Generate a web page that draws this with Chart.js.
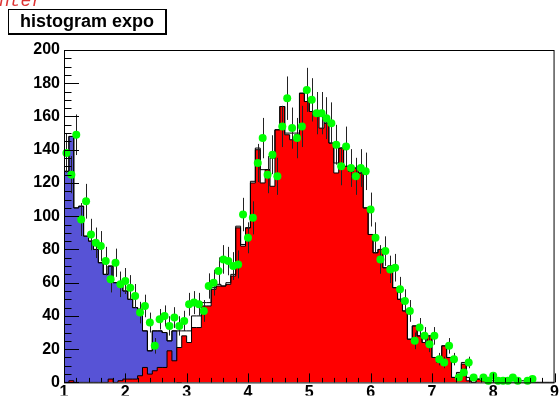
<!DOCTYPE html>
<html>
<head>
<meta charset="utf-8">
<script src="https://cdn.jsdelivr.net/npm/chart.js@4"></script>
<style>
html, body { margin: 0; padding: 0; background: #fff; }
</style>
</head>
<body>
<canvas id="c" width="560" height="396"></canvas>
<script>
// binning of the histograms
const xLow = 1, xHigh = 9, nBins = 100;
const xTicks = [1, 2, 3, 4, 5, 6, 7, 8, 9];
const yTicks = [0, 20, 40, 60, 80, 100, 120, 140, 160, 180, 200];

// green points (data, drawn with sqrt(N) errors)
const dataCounts = [
  138, 125, 149, 98, 109, 89, 84, 82, 73, 62,
  72, 59, 61, 57, 52, 42, 46, 36, 22, 38,
  40, 34, 39, 34, 37, 47, 48, 47, 43, 58,
  60, 67, 74, 73, 70, 71, 101, 87, 99, 132,
  147, 125, 137, 124, 154, 171, 153, 147, 154, 176,
  170, 162, 162, 159, 156, 143, 130, 142, 129, 124,
  129, 127, 104, 87, 74, 79, 68, 69, 56, 49,
  43, 25, 33, 28, 23, 28, 14, 12, 22, 14,
  3, 6, 12, 3, 0, 3, 1, 4, 1, 1,
  1, 3, 1, 0, 1, 2, 0, 0, 0, 0
];

// blue part (expo), first 24 bins
const expoCounts = [
  140, 127, 148, 105, 106, 88, 85, 80, 72, 65,
  70, 60, 58, 55, 50, 45, 44, 31, 19, 31,
  31, 30, 25, 31
];

// red part (gaus)
const gausCounts = [
  0, 0, 1, 0, 0, 0, 0, 0, 0, 0,
  2, 0, 1, 2, 2, 2, 4, 9, 5, 7,
  9, 9, 19, 13, 21, 28, 24, 33, 33, 46,
  46, 56, 58, 58, 59, 64, 93, 82, 93, 120,
  140, 120, 128, 118, 152, 166, 149, 146, 149, 174,
  169, 163, 162, 153, 156, 144, 126, 141, 130, 127,
  129, 126, 105, 89, 78, 80, 69, 70, 57, 50,
  43, 26, 34, 28, 24, 28, 15, 12, 22, 15,
  3, 5, 11, 1, 0, 2, 1, 2, 0, 1,
  0, 1, 0, 0, 0, 0, 0, 0, 0, 0
];

// black outline (sum)
const totalCounts = [
  140, 127, 148, 105, 106, 88, 85, 80, 72, 65,
  70, 60, 58, 55, 50, 45, 44, 31, 19, 31,
  31, 30, 25, 31, 31, 31, 31, 40, 40, 48,
  48, 57, 59, 58, 60, 65, 94, 83, 93, 121,
  141, 128, 128, 135, 152, 166, 150, 150, 150, 174,
  169, 163, 162, 160, 156, 144, 132, 141, 130, 127,
  129, 126, 105, 89, 78, 80, 69, 70, 57, 50,
  43, 26, 34, 28, 24, 28, 15, 12, 22, 15,
  3, 6, 12, 3, 0, 2, 1, 3, 1, 1,
  1, 2, 1, 0, 1, 2, 0, 0, 0, 0
];

const binW = (xHigh - xLow) / nBins;
const edge = i => xLow + i * binW;
const center = i => xLow + (i + 0.5) * binW;

// step points on the bin edges, closed at the last edge
function steps(vals) {
  const pts = vals.map((v, i) => ({ x: edge(i), y: v }));
  pts.push({ x: edge(vals.length), y: 0 });
  return pts;
}

const points = [];
dataCounts.forEach((v, i) => { if (v > 0) points.push({ x: center(i), y: v }); });

const labelFont = { family: 'Liberation Sans', size: 16, weight: 'bold' };

const rootAxes = {
  id: 'rootAxes',
  beforeDatasetDraw(chart, args) {
    if (args.index !== 0) return;
    // error bars under the green markers
    const ctx = chart.ctx, xs = chart.scales.x, ys = chart.scales.y;
    ctx.save();
    ctx.strokeStyle = '#222';
    ctx.lineWidth = 1;
    ctx.beginPath();
    points.forEach(p => {
      const e = Math.sqrt(p.y);
      const px = Math.round(xs.getPixelForValue(p.x)) + 0.5;
      ctx.moveTo(px, ys.getPixelForValue(Math.max(0, p.y - e)));
      ctx.lineTo(px, ys.getPixelForValue(Math.min(200, p.y + e)));
    });
    ctx.stroke();
    ctx.restore();
  },
  afterDatasetsDraw(chart) {
    const ctx = chart.ctx, a = chart.chartArea;
    const xs = chart.scales.x, ys = chart.scales.y;
    ctx.save();
    ctx.strokeStyle = '#000';
    ctx.lineWidth = 1;
    ctx.strokeRect(a.left + 0.5, a.top + 0.5, a.right - a.left - 1, a.bottom - a.top);
    ctx.beginPath();
    // x ticks, pointing up
    for (let k = 0; k <= 40; k++) {
      const v = xLow + k * 0.2;
      const px = Math.round(xs.getPixelForValue(v)) + 0.5;
      const len = k % 5 === 0 ? 9 : 4.5;
      ctx.moveTo(px, a.bottom);
      ctx.lineTo(px, a.bottom - len);
    }
    // y ticks, pointing right
    for (let k = 0; k <= 40; k++) {
      const v = k * 5;
      const py = Math.round(ys.getPixelForValue(v)) + 0.5;
      const len = k % 4 === 0 ? 15 : 7.5;
      ctx.moveTo(a.left, py);
      ctx.lineTo(a.left + len, py);
    }
    ctx.stroke();
    ctx.restore();
  },
  afterDraw(chart) {
    const ctx = chart.ctx;
    ctx.save();
    // leftover red text at the top edge
    ctx.fillStyle = '#dd3333';
    ctx.font = 'italic 18px "Liberation Mono"';
    ctx.textBaseline = 'alphabetic';
    ctx.fillText('nter', -1, 6);
    // title box with shadow
    ctx.fillStyle = '#000';
    ctx.fillRect(8, 9, 159, 26);
    ctx.fillStyle = '#fff';
    ctx.fillRect(9, 10, 156, 23);
    ctx.fillStyle = '#000';
    ctx.font = 'bold 18px "Liberation Sans"';
    ctx.textAlign = 'center';
    ctx.fillText('histogram expo', 87, 27);
    ctx.restore();
  }
};

new Chart(document.getElementById('c'), {
  type: 'line',
  data: {
    datasets: [
      {
        label: 'data',
        data: points,
        showLine: false,
        pointRadius: 4,
        pointHoverRadius: 4,
        pointBackgroundColor: '#00ff00',
        pointBorderColor: '#00ff00',
        pointBorderWidth: 0,
        clip: false,
        order: 0
      },
      {
        label: 'total',
        data: steps(totalCounts),
        stepped: 'after',
        borderColor: '#000',
        borderWidth: 1,
        pointRadius: 0,
        fill: false,
        order: 1
      },
      {
        label: 'gaus',
        data: steps(gausCounts),
        stepped: 'after',
        borderColor: '#000',
        borderWidth: 1,
        backgroundColor: '#ff0000',
        pointRadius: 0,
        fill: 'origin',
        order: 2
      },
      {
        label: 'expo',
        data: steps(expoCounts),
        stepped: 'after',
        borderColor: '#000',
        borderWidth: 1,
        backgroundColor: '#5753d6',
        pointRadius: 0,
        fill: 'origin',
        order: 3
      }
    ]
  },
  options: {
    responsive: false,
    animation: false,
    events: [],
    layout: { padding: { top: 50, right: 5, left: 0, bottom: 0 } },
    plugins: {
      legend: { display: false },
      tooltip: { enabled: false },
      title: { display: false }
    },
    scales: {
      x: {
        type: 'linear',
        min: xLow,
        max: xHigh,
        afterBuildTicks: s => { s.ticks = xTicks.map(v => ({ value: v })); },
        afterFit: s => { s.height = 13; },
        grid: { display: false, drawTicks: false },
        border: { display: false },
        ticks: { padding: 1, color: '#000', font: labelFont, maxRotation: 0, autoSkip: false }
      },
      y: {
        type: 'linear',
        min: 0,
        max: 200,
        afterBuildTicks: s => { s.ticks = yTicks.map(v => ({ value: v })); },
        afterFit: s => { s.width = 64; },
        grid: { display: false, drawTicks: false },
        border: { display: false },
        ticks: { padding: 4, color: '#000', font: labelFont, autoSkip: false }
      }
    }
  },
  plugins: [rootAxes]
});
</script>
</body>
</html>
